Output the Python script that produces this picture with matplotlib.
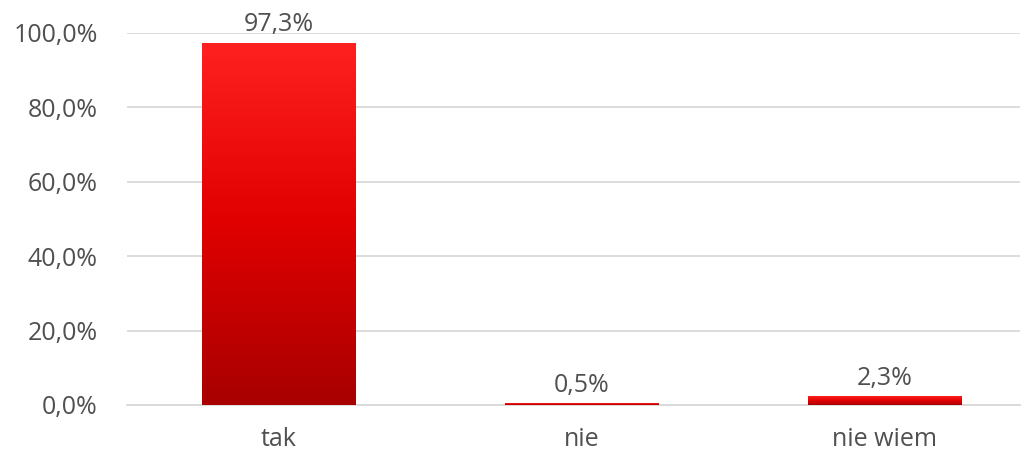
import numpy as np
import matplotlib.pyplot as plt
from matplotlib.colors import LinearSegmentedColormap
from matplotlib.ticker import FuncFormatter

categories = ['tak', 'nie', 'nie wiem']
values = [97.3, 0.5, 2.3]
labels = ['97,3%', '0,5%', '2,3%']

plt.rcParams['font.family'] = ['Open Sans', 'DejaVu Sans']
txt = '#505050'

fig = plt.figure(figsize=(10.24, 4.55), dpi=100)
ax = fig.add_axes([0.124, 0.11, 0.872, 0.8176])

x = np.arange(len(categories))
bars = ax.bar(x, values, width=0.505, color='none', zorder=3)

# gradient jasnoczerwony -> ciemnoczerwony w kazdym slupku
cmap = LinearSegmentedColormap.from_list('red', ['#a80000', '#e00000', '#ff2020'])
grad = np.linspace(0, 1, 256).reshape(-1, 1)
for b in bars:
    x0, y0 = b.get_x(), b.get_y()
    w, h = b.get_width(), b.get_height()
    im = ax.imshow(grad, cmap=cmap, aspect='auto', origin='lower',
                   extent=[x0, x0 + w, y0, y0 + h], zorder=3)
    im.set_clip_path(b)

for xi, v, lab in zip(x, values, labels):
    ax.annotate(lab, (xi, v), xytext=(0, 4), textcoords='offset points',
                ha='center', va='bottom', fontsize=18, color=txt)

ax.set_xlim(-0.5, 2.447)
ax.set_ylim(0, 100)
ax.set_yticks(np.arange(0, 101, 20))
ax.yaxis.set_major_formatter(FuncFormatter(lambda v, p: '{:.1f}%'.format(v).replace('.', ',')))
ax.set_xticks(x)
ax.set_xticklabels(categories)
ax.tick_params(axis='both', length=0, labelsize=18, colors=txt)
ax.tick_params(axis='x', pad=16)
ax.tick_params(axis='y', pad=21)
ax.grid(axis='y', color='#d9d9d9', linewidth=1.3, zorder=0)
for s in ['top', 'right', 'left']:
    ax.spines[s].set_visible(False)
ax.spines['bottom'].set_color('#d9d9d9')
ax.spines['bottom'].set_linewidth(1.3)

plt.savefig('out.png', dpi=100)
